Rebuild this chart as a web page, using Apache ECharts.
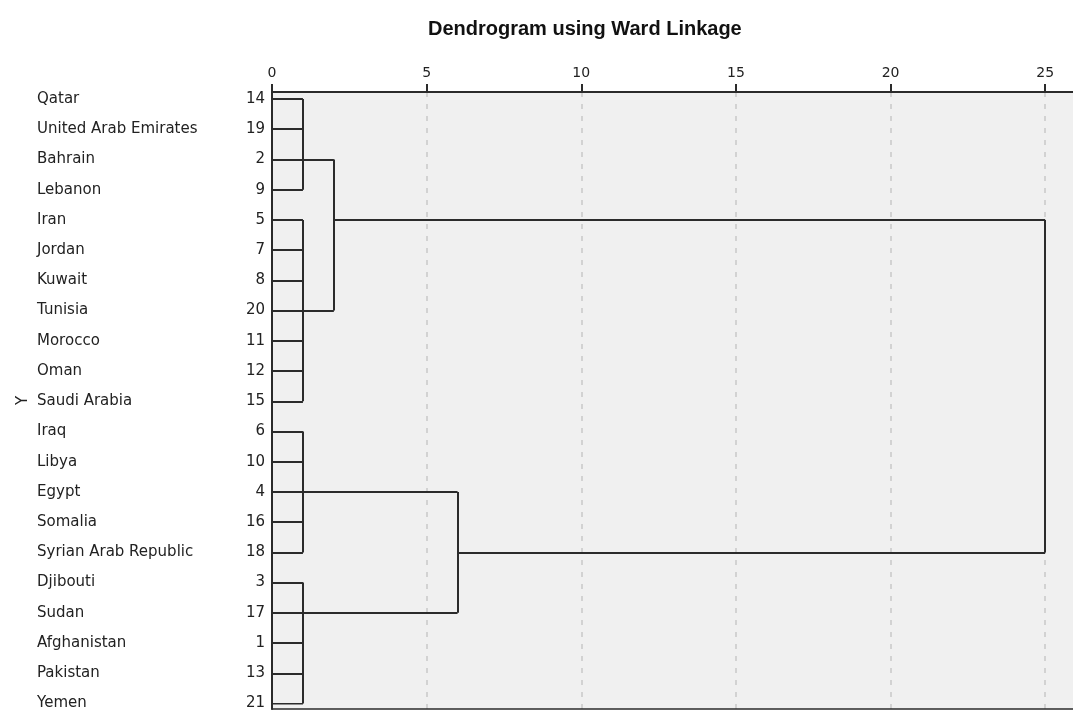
<!DOCTYPE html>
<html>
<head>
<meta charset="utf-8">
<script src="https://cdn.jsdelivr.net/npm/echarts@6/dist/echarts.min.js"></script>
<style>
  html, body { margin: 0; padding: 0; background: #fff; }
  #chart { width: 1073px; height: 711px; }
</style>
</head>
<body>
<div id="chart"></div>
<script>
// leaves, top to bottom
var countries = ['Qatar', 'United Arab Emirates', 'Bahrain', 'Lebanon', 'Iran', 'Jordan', 'Kuwait',
  'Tunisia', 'Morocco', 'Oman', 'Saudi Arabia', 'Iraq', 'Libya', 'Egypt', 'Somalia',
  'Syrian Arab Republic', 'Djibouti', 'Sudan', 'Afghanistan', 'Pakistan', 'Yemen']
var caseIds = [14, 19, 2, 9, 5, 7, 8, 20, 11, 12, 15, 6, 10, 4, 16, 18, 3, 17, 1, 13, 21]

// first level clusters (row ranges), joined at height 1
var clusterFirst = [0, 4, 11, 16]
var clusterLast = [3, 10, 15, 20]
var clusterHeight = [1, 1, 1, 1]
var clusterStemRow = [2, 7, 13, 17]

// second level: pairs of clusters joined
var joinA = [0, 2]
var joinB = [1, 3]
var joinHeight = [2, 6]
var joinStemRow = [4, 15]

// root
var rootHeight = 25

var xTicks = [0, 5, 10, 15, 20, 25]
var xMax = 25.9

var segs = []
function seg (x1, y1, x2, y2) {
  segs.push({ coords: [[x1, y1], [x2, y2]] })
}

// leaves -> first clusters
clusterFirst.forEach(function (first, i) {
  for (var r = first; r <= clusterLast[i]; r++) {
    seg(0, r, clusterHeight[i], r)
  }
  seg(clusterHeight[i], first, clusterHeight[i], clusterLast[i])
})
// clusters -> joins
joinHeight.forEach(function (h, j) {
  var a = joinA[j], b = joinB[j]
  seg(clusterHeight[a], clusterStemRow[a], h, clusterStemRow[a])
  seg(clusterHeight[b], clusterStemRow[b], h, clusterStemRow[b])
  seg(h, clusterStemRow[a], h, clusterStemRow[b])
  seg(h, joinStemRow[j], rootHeight, joinStemRow[j])
})
seg(rootHeight, joinStemRow[0], rootHeight, joinStemRow[1])

var labelFont = 'DejaVu Sans'
var dark = '#2b2b2b'
var textColor = '#222'

var option = {
  animation: false,
  backgroundColor: '#ffffff',
  title: {
    text: 'Dendrogram using Ward Linkage',
    left: 423,
    top: 14,
    textStyle: {
      fontFamily: 'Liberation Sans',
      fontWeight: 'bold',
      fontSize: 20,
      color: '#111'
    }
  },
  grid: [
    { // frame
      left: 272, right: 0, top: 92, bottom: 2,
      show: true,
      backgroundColor: '#f0f0f0',
      borderWidth: 0
    },
    { // leaves
      left: 272, right: 0, top: 99, bottom: 7
    }
  ],
  xAxis: [
    {
      gridIndex: 0,
      type: 'value',
      position: 'top',
      min: 0,
      max: xMax,
      interval: 5,
      axisLine: { show: true, onZero: false, lineStyle: { color: dark, width: 2 } },
      axisTick: { show: true, length: 8, lineStyle: { color: dark, width: 2 } },
      axisLabel: {
        margin: 12,
        fontFamily: labelFont,
        fontSize: 14,
        color: textColor,
        showMaxLabel: false,
        formatter: function (v) { return xTicks.indexOf(v) >= 0 ? String(v) : '' }
      },
      splitLine: {
        show: true,
        showMinLine: false,
        showMaxLine: false,
        lineStyle: { color: '#d2d2d2', width: 2, type: [5, 7] }
      }
    },
    {
      gridIndex: 1,
      type: 'value',
      min: 0,
      max: xMax,
      show: false
    },
    { // bottom edge of the frame
      gridIndex: 0,
      type: 'value',
      position: 'bottom',
      min: 0,
      max: xMax,
      axisLine: { show: true, onZero: false, lineStyle: { color: dark, width: 1.5 } },
      axisTick: { show: false },
      axisLabel: { show: false },
      splitLine: { show: false }
    }
  ],
  yAxis: [
    {
      gridIndex: 0,
      type: 'value',
      min: 0,
      max: 1,
      name: 'Y',
      nameLocation: 'middle',
      nameRotate: 90,
      nameGap: 241,
      nameTextStyle: { fontFamily: labelFont, fontSize: 15, color: textColor },
      axisLine: { show: true, onZero: false, lineStyle: { color: dark, width: 2 } },
      axisTick: { show: false },
      axisLabel: { show: false },
      splitLine: { show: false }
    },
    {
      gridIndex: 1,
      type: 'value',
      inverse: true,
      min: 0,
      max: 20,
      interval: 1,
      axisLine: { show: false },
      axisTick: { show: false },
      splitLine: { show: false },
      axisLabel: {
        align: 'left',
        margin: 235,
        fontFamily: labelFont,
        fontSize: 15,
        color: textColor,
        formatter: function (v) { return countries[v] }
      }
    },
    {
      gridIndex: 1,
      type: 'value',
      position: 'left',
      inverse: true,
      min: 0,
      max: 20,
      interval: 1,
      axisLine: { show: false },
      axisTick: { show: false },
      splitLine: { show: false },
      axisLabel: {
        align: 'right',
        margin: 7,
        fontFamily: labelFont,
        fontSize: 15,
        color: textColor,
        formatter: function (v) { return String(caseIds[v]) }
      }
    }
  ],
  series: [
    {
      type: 'lines',
      coordinateSystem: 'cartesian2d',
      xAxisIndex: 1,
      yAxisIndex: 1,
      polyline: false,
      silent: true,
      lineStyle: { color: dark, width: 2, opacity: 1, curveness: 0 },
      data: segs
    }
  ]
}

var myChart = echarts.init(document.getElementById('chart'))
myChart.setOption(option)
</script>
</body>
</html>
